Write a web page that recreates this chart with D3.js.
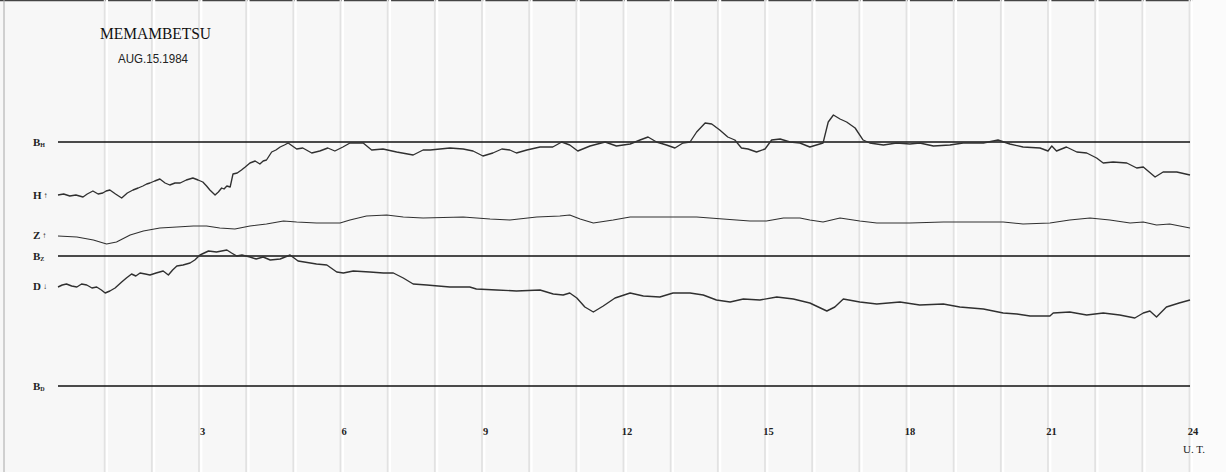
<!DOCTYPE html>
<html><head><meta charset="utf-8">
<script src="https://cdn.jsdelivr.net/npm/d3@7"></script>
<style>
html,body{margin:0;padding:0;background:#f7f7f7;}
svg{display:block;}
</style></head>
<body>
<svg id="chart" width="1226" height="472"></svg>
<script>
// ---- data ----
const station = "MEMAMBETSU";
const dateLabel = "AUG.15.1984";
const tickHours = [3, 6, 9, 12, 15, 18, 21, 24];
const tickLabels = ["3", "6", "9", "12", "15", "18", "21", "24"];
const gridHours = d3.range(1, 25);
// baseline levels (chart units)
const baseNames = ["H", "Z", "D"];
const baseLevels = [244, 130, 0];
// H trace: hours, deflection from B_H
const hH = [0,0.12,0.25,0.38,0.53,0.62,0.74,0.85,0.95,1.02,1.10,1.22,1.35,1.47,1.59,1.70,1.80,1.88,1.95,2.05,2.16,2.27,2.37,2.48,2.59,2.72,2.86,2.97,3.07,3.15,3.22,3.33,3.40,3.47,3.52,3.58,3.65,3.71,3.80,3.89,3.97,4.07,4.18,4.28,4.35,4.42,4.53,4.62,4.71,4.80,4.88,5.06,5.19,5.38,5.55,5.72,5.87,6.04,6.19,6.47,6.65,6.89,7.18,7.53,7.74,7.89,8.31,8.59,8.80,9.01,9.22,9.41,9.58,9.72,9.94,10.22,10.49,10.68,10.85,11.02,11.28,11.60,11.84,12.13,12.34,12.51,12.69,12.90,13.08,13.25,13.40,13.54,13.72,13.86,14.03,14.20,14.35,14.49,14.63,14.81,14.99,15.13,15.31,15.52,15.73,15.94,16.22,16.33,16.44,16.58,16.72,16.90,17.07,17.21,17.50,17.78,18.06,18.27,18.56,18.91,19.19,19.62,19.93,20.18,20.46,20.82,20.99,21.07,21.17,21.38,21.60,21.81,22.02,22.16,22.37,22.66,22.87,23.01,23.26,23.43,23.72,24.00];
const vH = [-53,-52,-54,-53,-55,-52,-49,-52,-51,-49,-48,-52,-56,-51,-48,-46,-44,-42,-41,-39,-37,-41,-43,-41,-41,-38,-36,-38,-40,-44,-48,-53,-50,-46,-47,-44,-45,-32,-31,-28,-25,-21,-19,-22,-19,-18,-10,-8,-5,-3,-1,-7,-6,-11,-9,-6,-9,-5,-1,-1,-8,-7,-10,-13,-8,-8,-6,-7,-9,-14,-11,-7,-8,-11,-8,-5,-5,0,-3,-9,-4,0,-4,-2,2,5,0,-3,-6,-1,0,10,19,18,12,5,2,-6,-7,-10,-7,2,3,0,-1,-5,-1,20,27,23,20,14,2,-1,-3,-1,-2,-1,-4,-3,-1,-1,2,-2,-5,-6,-9,-4,-9,-5,-10,-11,-16,-21,-20,-21,-26,-25,-35,-30,-30,-33];
// Z trace: hours, deflection from B_Z
const hZ = [0,0.40,0.75,1.03,1.24,1.53,1.81,2.16,2.52,2.87,3.15,3.43,3.75,4.07,4.42,4.78,5.06,5.48,5.98,6.19,6.54,6.97,7.32,7.74,8.59,9.16,9.58,10.15,10.64,10.85,11.07,11.35,11.77,12.13,12.83,13.54,14.10,14.67,15.02,15.38,15.73,15.94,16.22,16.58,17.00,17.36,18.06,18.77,19.48,20.04,20.46,21.03,21.45,21.88,22.30,22.73,23.01,23.29,23.57,24.00];
const vZ = [20,19,16,12,14,21,25,28,29,30,30,28,27,30,32,35,34,33,33,36,40,41,39,38,39,37,36,39,40,41,37,33,36,39,39,39,37,35,35,38,38,36,34,38,35,33,33,34,34,34,32,33,36,38,36,33,34,31,32,28];
// D trace: hours, deflection from B_D
const hD = [0,0.09,0.18,0.29,0.40,0.50,0.61,0.72,0.82,0.92,1.00,1.10,1.21,1.35,1.45,1.56,1.65,1.74,1.85,1.95,2.08,2.23,2.34,2.43,2.52,2.65,2.80,2.90,3.01,3.19,3.36,3.58,3.68,3.79,3.90,4.07,4.20,4.35,4.50,4.71,4.92,5.09,5.48,5.70,5.91,6.05,6.26,6.61,6.90,7.11,7.32,7.53,7.82,8.06,8.31,8.73,8.87,9.30,9.72,10.22,10.50,10.71,10.85,11.00,11.17,11.35,11.56,11.81,12.13,12.41,12.76,13.04,13.40,13.68,13.96,14.25,14.53,14.88,15.24,15.59,15.94,16.30,16.47,16.65,17.00,17.36,17.85,18.27,18.77,19.12,19.62,20.04,20.33,20.61,21.03,21.10,21.45,21.81,22.16,22.51,22.83,23.01,23.15,23.29,23.50,23.77,24.00];
const vD = [99,101,102,100,99,102,101,98,99,96,93,95,98,104,108,112,110,113,112,111,113,115,111,116,120,121,123,126,131,135,134,136,133,130,131,129,127,129,126,127,131,125,122,121,114,113,115,114,113,113,108,102,101,100,99,99,97,96,95,96,92,91,93,88,79,74,80,88,93,90,89,93,93,91,86,84,87,86,89,87,83,75,79,87,84,82,84,81,82,79,77,73,72,70,70,73,74,71,73,71,68,73,75,69,79,83,86];

// ---- drawing ----
const svg = d3.select("#chart");
const W = 1226, H = 472;
const x = d3.scaleLinear().domain([0, 24]).range([58, 1190]);
const y = d3.scaleLinear().domain([0, 300]).range([386, 86]);

svg.append("rect").attr("width", W).attr("height", H).attr("fill", "#f7f7f7");
// scan edges
svg.append("line").attr("x1",0).attr("x2",W).attr("y1",0.5).attr("y2",0.5).attr("stroke","#444").attr("stroke-width",1.5);
svg.append("line").attr("x1",4).attr("x2",4).attr("y1",0).attr("y2",H).attr("stroke","#a8a8a8").attr("stroke-width",1);
svg.append("rect").attr("x",1193).attr("y",0).attr("width",33).attr("height",H).attr("fill","#fbfbfb");

// hourly grid lines (paper)
const grid = svg.append("g");
grid.selectAll("line.g1").data(gridHours).join("line")
  .attr("x1", d => x(d) - 0.5).attr("x2", d => x(d) - 0.5)
  .attr("y1", 0).attr("y2", H).attr("stroke", "#e2e2e2").attr("stroke-width", 1.8);
grid.selectAll("line.g2").data(gridHours).join("line")
  .attr("x1", d => x(d) + 1.8).attr("x2", d => x(d) + 1.8)
  .attr("y1", 0).attr("y2", H).attr("stroke", "#ffffff").attr("stroke-width", 2.2);

// baselines
svg.append("g").selectAll("line").data(baseLevels).join("line")
  .attr("x1", x(0)).attr("x2", x(24))
  .attr("y1", d => y(d)).attr("y2", d => y(d))
  .attr("stroke", "#111").attr("stroke-width", 1.3);

// traces
const traces = [
  {h: hH, v: vH, base: baseLevels[0], w: 1.35},
  {h: hZ, v: vZ, base: baseLevels[1], w: 1.1},
  {h: hD, v: vD, base: baseLevels[2], w: 1.4}
];
const line = d3.line().x(d => x(d[0])).y(d => y(d[1])).curve(d3.curveLinear);
traces.forEach(t => {
  const pts = t.h.map((hh, i) => [hh, t.base + t.v[i]]);
  svg.append("path").attr("d", line(pts)).attr("fill", "none")
    .attr("stroke", "#303030").attr("stroke-width", t.w).attr("stroke-linejoin", "round");
});

// left labels
const serif = "'Liberation Serif','DejaVu Serif',serif";
function baseLabel(level, sub) {
  const t = svg.append("text").attr("x", 33).attr("y", y(level) + 4)
    .attr("font-family", serif).attr("font-weight", "bold").attr("font-size", 11).attr("fill", "#222");
  t.append("tspan").text("B");
  t.append("tspan").attr("font-size", 6).attr("dy", 1).text(sub);
}
baseLabel(baseLevels[0], "H");
baseLabel(baseLevels[1], "Z");
baseLabel(baseLevels[2], "D");
function compLabel(level, name, arrow) {
  const t = svg.append("text").attr("x", 33).attr("y", y(level) + 4)
    .attr("font-family", serif).attr("font-weight", "bold").attr("font-size", 11).attr("fill", "#222");
  t.append("tspan").text(name);
  t.append("tspan").attr("font-size", 8).attr("dx", 2).attr("dy", -1).text(arrow);
}
compLabel(baseLevels[0] + vH[0], "H", "↑");
compLabel(baseLevels[1] + vZ[0] + 1, "Z", "↑");
compLabel(baseLevels[2] + vD[0] + 1, "D", "↓");

// title
svg.append("text").attr("x", 100).attr("y", 39).text(station)
  .attr("font-family", serif).attr("font-size", 16).attr("fill", "#111")
  .attr("textLength", 111).attr("lengthAdjust", "spacingAndGlyphs");
svg.append("text").attr("x", 118).attr("y", 63).text(dateLabel)
  .attr("font-family", "'Liberation Sans Narrow','Liberation Sans',sans-serif").attr("font-size", 13).attr("fill", "#222")
  .attr("textLength", 70).attr("lengthAdjust", "spacingAndGlyphs");

// hour ticks
svg.append("g").selectAll("text").data(tickHours).join("text")
  .attr("x", d => x(d) + 3).attr("y", 435).attr("text-anchor", "middle")
  .attr("font-family", serif).attr("font-weight", "bold").attr("font-size", 10.5).attr("fill", "#222")
  .text((d, i) => tickLabels[i]);
svg.append("text").attr("x", 1194).attr("y", 453).attr("text-anchor", "middle")
  .attr("font-family", serif).attr("font-size", 11).attr("fill", "#222").text("U. T.");
</script>
</body></html>
